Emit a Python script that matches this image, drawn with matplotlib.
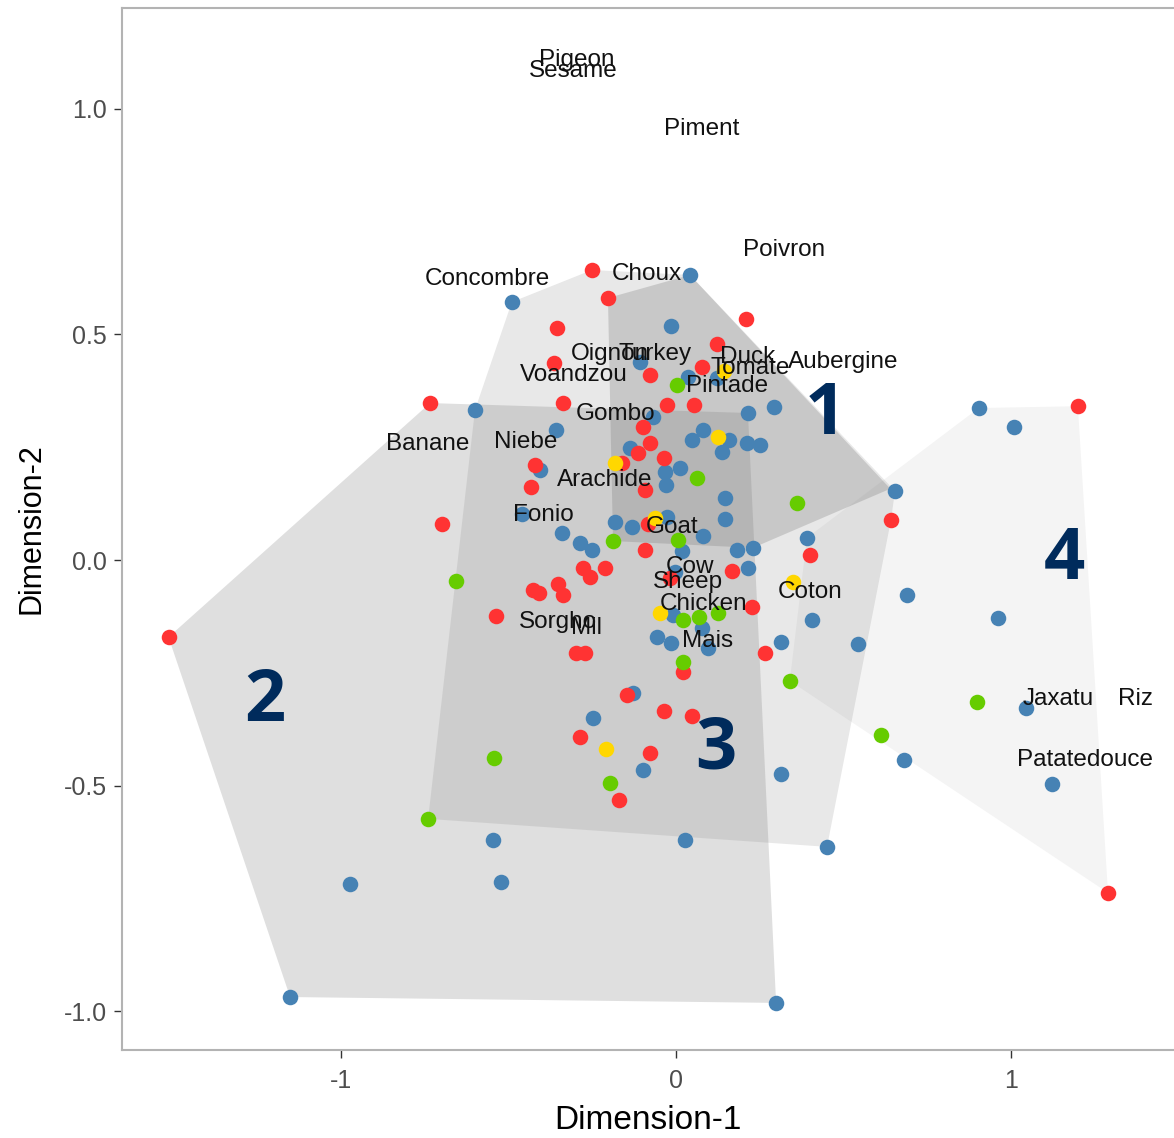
import matplotlib
matplotlib.use("Agg")
import matplotlib.pyplot as plt
from matplotlib.patches import Polygon

plt.rcParams['font.family'] = ['Liberation Sans', 'DejaVu Sans']

# ---- points, by colour group (Dimension-1, Dimension-2) ----
red_x = [-0.251, -0.203, -0.355, -0.364, -0.078, 0.078, 0.122, 0.209, -0.734, -0.337,
         -0.027, 0.054, -0.099, -0.078, -0.113, -0.036, -0.161, -0.421, -0.433, -0.093,
         -0.699, -0.084, -0.093, -0.278, -0.257, -0.212, -0.427, -0.409, -0.352, -0.337,
         -0.537, -0.299, -0.272, -0.146, -0.036, 0.048, -0.287, -0.078, -0.170, 0.021,
         -0.018, 0.167, 0.227, 0.266, 0.400, 0.642, 1.200, 1.290, -1.515]
red_y = [0.643, 0.581, 0.514, 0.437, 0.410, 0.428, 0.479, 0.534, 0.348, 0.348,
         0.344, 0.344, 0.295, 0.259, 0.237, 0.226, 0.215, 0.211, 0.162, 0.155,
         0.080, 0.080, 0.022, -0.018, -0.038, -0.018, -0.067, -0.073, -0.053, -0.078,
         -0.124, -0.206, -0.206, -0.299, -0.335, -0.346, -0.392, -0.428, -0.532, -0.248,
         -0.040, -0.024, -0.104, -0.206, 0.011, 0.089, 0.341, -0.738, -0.171]

blue_x = [0.042, -0.490, -0.015, -0.107, 0.036, 0.122, -0.600, -0.069, 0.215, 0.293,
          -0.358, 0.081, 0.048, 0.158, 0.137, 0.212, 0.251, -0.137, -0.406, 0.012,
          -0.033, -0.030, 0.146, 0.146, -0.182, -0.131, -0.027, 0.081, 0.018, 0.182,
          0.230, 0.215, 0.391, 0.654, -0.340, -0.287, -0.251, -0.460, -0.003, 0.690,
          0.406, 0.313, 0.543, -0.057, -0.015, 0.078, 0.096, -0.009, -0.128, -0.248,
          -0.099, 0.313, -0.546, 0.027, -0.522, 0.299, 0.451, 0.904, 1.009, 0.961,
          1.045, 1.122, 0.681, -0.973, -1.152]
blue_y = [0.632, 0.572, 0.519, 0.439, 0.406, 0.404, 0.333, 0.317, 0.326, 0.339,
          0.288, 0.288, 0.266, 0.266, 0.239, 0.259, 0.255, 0.248, 0.200, 0.204,
          0.195, 0.166, 0.137, 0.091, 0.084, 0.073, 0.095, 0.053, 0.020, 0.022,
          0.027, -0.018, 0.049, 0.153, 0.060, 0.038, 0.022, 0.102, -0.027, -0.078,
          -0.133, -0.182, -0.186, -0.171, -0.184, -0.151, -0.195, -0.122, -0.295, -0.350,
          -0.466, -0.475, -0.621, -0.621, -0.714, -0.982, -0.636, 0.337, 0.295, -0.129,
          -0.328, -0.497, -0.443, -0.718, -0.969]

green_x = [0.003, 0.063, 0.361, -0.188, 0.006, -0.657, 0.021, 0.069, 0.125, 0.021,
           0.340, 0.899, 0.612, -0.543, -0.197, -0.740]
green_y = [0.388, 0.182, 0.126, 0.042, 0.044, -0.047, -0.133, -0.126, -0.118, -0.226,
           -0.268, -0.315, -0.388, -0.439, -0.494, -0.574]

yellow_x = [0.125, -0.182, -0.063, -0.048, 0.349, -0.209, 0.143]
yellow_y = [0.273, 0.215, 0.093, -0.118, -0.049, -0.419, 0.419]

# ---- cluster hulls (outline points) ----
hull2 = [(-1.515, -0.171), (-0.734, 0.348), (0.215, 0.326), (0.299, -0.982), (-1.152, -0.969)]
hull3 = [(-0.740, -0.574), (-0.600, 0.333), (-0.490, 0.572), (-0.251, 0.643), (0.042, 0.632),
         (0.654, 0.153), (0.642, 0.089), (0.451, -0.636)]
hull1 = [(-0.203, 0.581), (0.042, 0.632), (0.640, 0.158), (0.230, 0.027), (-0.188, 0.042)]
hull4 = [(0.904, 0.337), (1.200, 0.341), (1.290, -0.738), (0.340, -0.268), (0.391, 0.049)]
hull_alpha = {'2': 0.25, '3': 0.18, '1': 0.30, '4': 0.085}

# ---- labels ----
lab_text = ['Pigeon', 'Sesame', 'Piment', 'Poivron', 'Concombre', 'Choux', 'Oignon', 'Turkey',
            'Duck', 'Tomate', 'Aubergine', 'Voandzou', 'Pintade', 'Gombo', 'Banane', 'Niebe',
            'Arachide', 'Fonio', 'Goat', 'Cow', 'Sheep', 'Chicken', 'Coton', 'Sorgho', 'Mil',
            'Mais', 'Jaxatu', 'Riz', 'Patatedouce']
lab_x = [-0.296, -0.307, 0.078, 0.322, -0.564, -0.087, -0.197, -0.063,
         0.215, 0.221, 0.499, -0.304, 0.152, -0.179, -0.740, -0.448,
         -0.212, -0.397, -0.012, 0.042, 0.036, 0.081, 0.400, -0.352, -0.266,
         0.093, 1.140, 1.373, 1.221]
lab_y = [1.109, 1.084, 0.956, 0.687, 0.623, 0.634, 0.457, 0.457,
         0.450, 0.426, 0.439, 0.410, 0.386, 0.324, 0.257, 0.262,
         0.177, 0.100, 0.073, -0.016, -0.049, -0.098, -0.071, -0.137, -0.151,
         -0.180, -0.308, -0.308, -0.443]

cluster_id = ['1', '2', '3', '4']
cluster_x = [0.445, -1.227, 0.119, 1.161]
cluster_y = [0.322, -0.315, -0.421, 0.0]

fig = plt.figure(figsize=(11.74, 11.38), dpi=100)
ax = fig.add_axes([0.1039, 0.0773, 0.8961, 0.9157])

for key, pts in [('2', hull2), ('3', hull3), ('1', hull1), ('4', hull4)]:
    ax.add_patch(Polygon(pts, closed=True, facecolor='0.5', edgecolor='none',
                         alpha=hull_alpha[key], zorder=1))

ms = 125
ax.scatter(blue_x, blue_y, s=ms, color='#4682B4', linewidths=0, zorder=3)
ax.scatter(red_x, red_y, s=ms, color='#FF3333', linewidths=0, zorder=3)
ax.scatter(green_x, green_y, s=ms, color='#66CC00', linewidths=0, zorder=4)
ax.scatter(yellow_x, yellow_y, s=ms, color='#FFD700', linewidths=0, zorder=4)

for t, x, y in zip(lab_text, lab_x, lab_y):
    ax.text(x, y, t, fontsize=17.5, color='#111111', ha='center', va='center', zorder=5)

for t, x, y in zip(cluster_id, cluster_x, cluster_y):
    ax.text(x, y, t, fontsize=52, fontweight='bold', color='#002B5C',
            family=['Open Sans', 'DejaVu Sans'], ha='center', va='center', zorder=6)

ax.set_xlim(-1.654, 1.487)
ax.set_ylim(-1.0865, 1.224)
ax.set_xticks([-1, 0, 1])
ax.set_xticklabels(['-1', '0', '1'])
ax.set_yticks([-1.0, -0.5, 0.0, 0.5, 1.0])
ax.set_yticklabels(['-1.0', '-0.5', '0.0', '0.5', '1.0'])
ax.tick_params(labelsize=18, labelcolor='#4D4D4D', color='#333333', length=6, width=1)
ax.tick_params(axis='x', pad=8)
ax.tick_params(axis='y', pad=5)
for side in ['left', 'bottom', 'top']:
    ax.spines[side].set_color('#B3B3B3')
    ax.spines[side].set_linewidth(1.5)
ax.spines['right'].set_visible(False)

ax.set_xlabel('Dimension-1', fontsize=24, labelpad=8)
ax.set_ylabel('Dimension-2', fontsize=22, labelpad=12)

fig.savefig('out.png', dpi=100)
